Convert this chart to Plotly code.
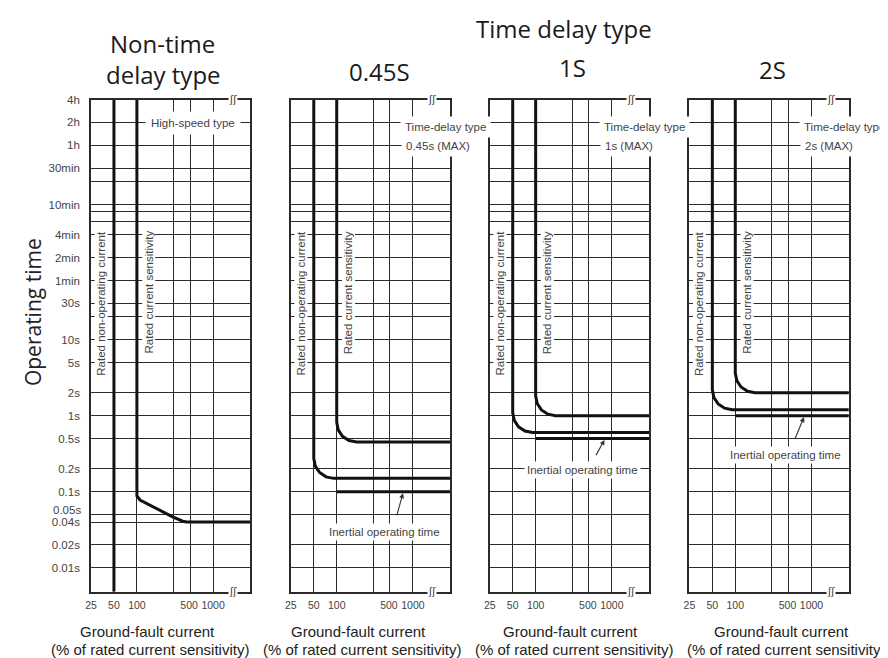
import math
import plotly.graph_objects as go

# page body has an 8px default margin; figure sized so that page = 888x658
OFF = 8
W, H = 888 - OFF, 658 - OFF

# ---------------- data ----------------
y_ticks_p1 = [14400, 7200, 3600, 1800, 1200, 600, 480, 360, 240, 120, 60, 30, 20,
              10, 5, 2, 1, 0.5, 0.2, 0.1, 0.05, 0.04, 0.02, 0.01]
y_labels_p1 = ["4h", "2h", "1h", "30min", "", "10min", "", "", "4min", "2min", "1min",
               "30s", "", "10s", "5s", "2s", "1s", "0.5s", "0.2s", "0.1s", "", "0.04s",
               "0.02s", "0.01s"]
y_ticks_other = [v for v in y_ticks_p1 if v != 0.04]
x_ticks = [25, 50, 100, 300, 500, 1000]
x_labels = ["25", "50", "100", "", "500\u2009", "1000"]

panel_titles = ["0.45S", "1S", "2S"]
delay_max_labels = ["0.45s (MAX)", "1s (MAX)", "2s (MAX)"]

# Non-time delay type panel
p1_nonop_x = [50, 50]
p1_nonop_y = [14400, 0.0048]
p1_sens_x = [100, 100, 110, 290, 400, 450, 3100]
p1_sens_y = [14400, 0.088, 0.078, 0.047, 0.041, 0.04, 0.04]

# Time delay type panels (0.45S, 1S, 2S)
td_nonop_x = [50, 50, 52.4, 59.6, 72.4, 91, 3100]
td_nonop_y = [
    [14400, 0.273, 0.217, 0.179, 0.157, 0.15, 0.15],
    [14400, 1.094, 0.869, 0.715, 0.628, 0.6, 0.6],
    [14400, 2.188, 1.738, 1.430, 1.256, 1.2, 1.2],
]
td_sens_x = [100, 100, 104.7, 119, 145, 182, 3100]
td_sens_y = [
    [14400, 0.82, 0.652, 0.536, 0.471, 0.45, 0.45],
    [14400, 1.823, 1.448, 1.192, 1.047, 1.0, 1.0],
    [14400, 3.646, 2.896, 2.384, 2.094, 2.0, 2.0],
]
inertial_x = [100, 3100]
inertial_y = [0.1, 0.5, 1.0]
arrow_head_x = [750, 818, 812]

# ---------------- layout helpers (page pixels -> paper) ----------------
def pxx(v):
    return (v - OFF) / W

def pxy(v):
    return 1 - (v - OFF) / H

panel_left = [85.5, 286.7, 487.0, 688.0]
panel_w = 160.5
top_px, bot_px = 94.3, 591.0

XR = [math.log10(25) - 0.0005, math.log10(3084)]
YR = [math.log10(0.00486), math.log10(14400) + 0.0005]

GRID = "#2b2b2b"
SMALL = dict(family="Liberation Sans, Arial, sans-serif", size=11.5, color="#444")
XTICK = dict(family="Liberation Sans, Arial, sans-serif", size=10.5, color="#444")
TITLE = dict(family="Open Sans, Noto Sans, sans-serif", size=24, color="#1a1a1a")
XT = dict(family="Liberation Sans, Arial, sans-serif", size=15, color="#222")

fig = go.Figure()
layout = dict(width=W, height=H, margin=dict(l=0, r=0, t=0, b=0),
              paper_bgcolor="white", plot_bgcolor="white", showlegend=False)

for i in range(4):
    sx = "" if i == 0 else str(i + 1)
    layout["xaxis" + sx] = dict(
        type="log", range=XR, domain=[pxx(panel_left[i]), pxx(panel_left[i] + panel_w)],
        anchor="y" + sx, tickmode="array", tickvals=x_ticks, ticktext=x_labels,
        tickangle=0, ticks="", ticklabelstandoff=3, tickfont=XTICK, showgrid=True,
        gridcolor=GRID, gridwidth=1.2, showline=True, mirror=True, linecolor=GRID,
        linewidth=1.5, zeroline=False, fixedrange=True)
    layout["yaxis" + sx] = dict(
        type="log", range=YR, domain=[pxy(bot_px), pxy(top_px)], anchor="x" + sx,
        tickmode="array", tickvals=y_ticks_p1 if i == 0 else y_ticks_other,
        ticktext=y_labels_p1 if i == 0 else None, showticklabels=(i == 0),
        ticks="", ticklabelstandoff=7, tickfont=SMALL, showgrid=True, gridcolor=GRID,
        gridwidth=1.2, showline=True, mirror=True, linecolor=GRID, linewidth=1.5,
        zeroline=False, fixedrange=True)

LINE = dict(color="#111", width=3)

fig.add_trace(go.Scatter(x=p1_nonop_x, y=p1_nonop_y, mode="lines", line=LINE,
                         xaxis="x", yaxis="y"))
fig.add_trace(go.Scatter(x=p1_sens_x, y=p1_sens_y, mode="lines", line=LINE,
                         xaxis="x", yaxis="y"))
for k in range(3):
    sx = str(k + 2)
    fig.add_trace(go.Scatter(x=td_nonop_x, y=td_nonop_y[k], mode="lines", line=LINE,
                             xaxis="x" + sx, yaxis="y" + sx))
    fig.add_trace(go.Scatter(x=td_sens_x, y=td_sens_y[k], mode="lines", line=LINE,
                             xaxis="x" + sx, yaxis="y" + sx))
    fig.add_trace(go.Scatter(x=inertial_x, y=[inertial_y[k]] * 2, mode="lines",
                             line=LINE, xaxis="x" + sx, yaxis="y" + sx))

ann = []

def txt(text, x, y, font, xanchor="center", angle=0, bg=None, pad=1):
    d = dict(text=text, x=pxx(x), y=pxy(y), xref="paper", yref="paper",
             showarrow=False, font=font, xanchor=xanchor, yanchor="middle",
             textangle=angle, borderpad=pad)
    if bg:
        d["bgcolor"] = bg
    ann.append(d)

# Titles
txt("Non-time", 157.5, 38, TITLE)
txt("delay type", 159, 69, TITLE)
txt("Time delay type", 561.5, 23, TITLE)
for t, cx, cy in zip(panel_titles, [376, 570, 771.7], [66, 62.5, 64.5]):
    txt(t, cx, cy, TITLE)

# Y-axis title
txt("Operating time", 27, 309, dict(family="Open Sans, Noto Sans, sans-serif",
                                     size=21, color="#222"), angle=-90)
# y tick label placed just above its line (crowded with 0.04s)
txt("0.05s", 77, 508.5, SMALL, xanchor="right")

# X-axis titles
for cx1, cx2 in zip([142, 355, 568, 781], [145, 358, 572, 785]):
    txt("Ground-fault current", cx1, 631.7, XT)
    txt("(% of rated current sensitivity)", cx2, 649, XT)

for i in range(4):
    L = panel_left[i]
    txt("Rated non-operating current", L + 10.5, 300, SMALL, angle=-90, bg="white", pad=0)
    txt("Rated current sensitivity", L + 58.5, 289, SMALL, angle=-90, bg="white", pad=0)
    brk = dict(family="DejaVu Sans", size=10, color="#333")
    txt("ʃʃ", L + 142.5, top_px, brk, bg="white", pad=0)
    txt("ʃʃ", L + 142.5, bot_px, brk, bg="white", pad=0)

txt("High-speed type", 188, 118, SMALL, bg="white", pad=5)
for k in range(3):
    L = panel_left[k + 1]
    txt("Time-delay type", L + 110.3, 121.7, SMALL, xanchor="left", bg="white", pad=4)
    txt(delay_max_labels[k], L + 111.3, 141.5, SMALL, xanchor="left", bg="white", pad=4)

# Inertial operating time labels + arrows
for k, (cx, cy, ax, ay) in enumerate(zip([381, 580, 785], [530.7, 468.3, 453.3],
                                         [-7, -10, -10], [25, 18, 24])):
    txt("Inertial operating time", cx, cy, SMALL, bg="white", pad=2)
    sx = str(k + 2)
    ann.append(dict(text="", x=math.log10(arrow_head_x[k]), y=math.log10(inertial_y[k]),
                    xref="x" + sx, yref="y" + sx, showarrow=True, ax=ax, ay=ay,
                    arrowhead=2, arrowsize=0.9, arrowwidth=1.1, arrowcolor="#333",
                    standoff=1.5))

layout["annotations"] = ann
fig.update_layout(**layout)
fig.write_html("out.html")
